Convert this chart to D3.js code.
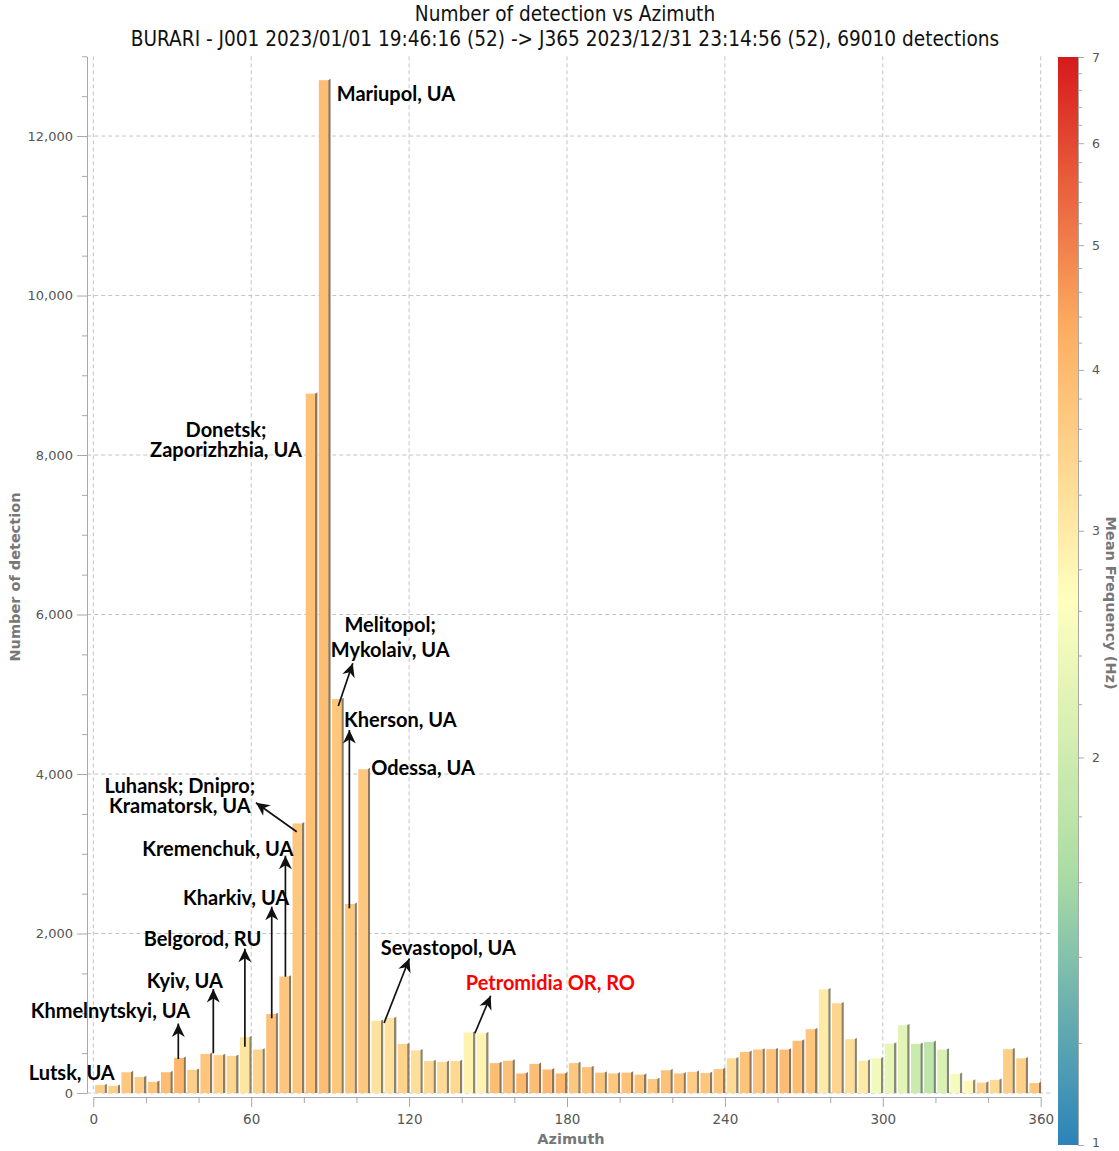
<!DOCTYPE html>
<html>
<head>
<meta charset="utf-8">
<script src="https://cdn.jsdelivr.net/npm/d3@7"></script>
<style>
  body { margin: 0; background: #fff; }
  text { font-family: "DejaVu Sans", sans-serif; }
</style>
</head>
<body>
<svg id="chart" width="1119" height="1151"></svg>
<script>
// Azimuth bins (start of each 5-degree bin)
const azimuthBins = [
  0, 5, 10, 15, 20, 25, 30, 35, 40, 45, 50, 55,
  60, 65, 70, 75, 80, 85, 90, 95, 100, 105, 110, 115,
  120, 125, 130, 135, 140, 145, 150, 155, 160, 165, 170, 175,
  180, 185, 190, 195, 200, 205, 210, 215, 220, 225, 230, 235,
  240, 245, 250, 255, 260, 265, 270, 275, 280, 285, 290, 295,
  300, 305, 310, 315, 320, 325, 330, 335, 340, 345, 350, 355
];
const binWidth = 5;

// Number of detections per bin
const detections = [
  100, 90, 260, 200, 140, 260, 440, 290, 490, 475, 465, 700,
  545, 990, 1460, 3380, 8770, 12700, 4940, 2370, 4060, 905, 940, 615,
  535, 400, 390, 400, 760, 750, 375, 405, 245, 365, 295, 245,
  375, 325, 255, 245, 255, 230, 175, 285, 245, 265, 250, 300,
  435, 515, 545, 550, 545, 655, 800, 1300, 1125, 675, 405, 435,
  620, 850, 615, 640, 545, 240, 155, 130, 165, 550, 435, 125
];

// Mean frequency (Hz) per bin
const meanFreq = [
  3.6, 3.5, 3.7, 3.6, 3.75, 3.95, 4.1, 3.55, 3.75, 3.5, 3.4, 3.1,
  3.45, 3.85, 3.75, 3.7, 3.85, 3.9, 3.7, 3.7, 3.7, 3.15, 3.15, 3.45,
  3.2, 3.35, 3.3, 3.35, 2.85, 2.85, 3.9, 3.85, 4.05, 3.9, 4.0, 4.05,
  3.7, 3.8, 3.8, 3.7, 3.85, 3.8, 3.7, 3.85, 3.8, 3.6, 3.75, 3.75,
  3.3, 3.8, 3.75, 3.8, 3.95, 3.9, 3.7, 3.0, 3.4, 3.2, 3.0, 2.45,
  2.3, 2.25, 1.95, 1.82, 2.15, 2.5, 2.75, 3.45, 3.3, 3.55, 3.5, 3.7
];

const xTicks = [0, 60, 120, 180, 240, 300, 360];
const yTicks = [0, 2000, 4000, 6000, 8000, 10000, 12000];
const freqTicks = [1, 2, 3, 4, 5, 6, 7];
const spectral = ["#2b83ba", "#abdda4", "#ffffbf", "#fdae61", "#d7191c"];

const titleText = "Number of detection vs Azimuth";
const subtitleText = "BURARI - J001 2023/01/01 19:46:16 (52) -> J365 2023/12/31 23:14:56 (52), 69010 detections";

// Place-name labels, positioned in (azimuth, detections) coordinates;
// multi-line labels list their lines top to bottom
const placeLabels = [
  { lines: ["Mariupol, UA"],                       az: 115.0, n: 12527 },
  { lines: ["Donetsk;", "Zaporizhzhia, UA"],       az: 50.4,  n: 8313, gap: 20 },
  { lines: ["Melitopol;", "Mykolaiv, UA"],         az: 112.8, n: 5868, gap: 25 },
  { lines: ["Kherson, UA"],                        az: 116.7, n: 4677 },
  { lines: ["Odessa, UA"],                         az: 125.3, n: 4075 },
  { lines: ["Luhansk; Dnipro;", "Kramatorsk, UA"], az: 32.9,  n: 3850, gap: 20 },
  { lines: ["Kremenchuk, UA"],                     az: 47.3,  n: 3060 },
  { lines: ["Kharkiv, UA"],                        az: 54.3,  n: 2445 },
  { lines: ["Belgorod, RU"],                       az: 41.5,  n: 1931 },
  { lines: ["Kyiv, UA"],                           az: 34.8,  n: 1404 },
  { lines: ["Khmelnytskyi, UA"],                   az: 6.5,   n: 1028 },
  { lines: ["Lutsk, UA"],                          az: -8.2,  n: 251 },
  { lines: ["Sevastopol, UA"],                     az: 134.9, n: 1818 },
  { lines: ["Petromidia OR, RO"],                  az: 173.7, n: 1379, red: true }
];

// Pointer arrows: from a bar top towards its label
const pointers = [
  { from: [93.1, 4853],  to: [98.6, 5388] },
  { from: [97.3, 2316],  to: [97.3, 4552] },
  { from: [77.3, 3276],  to: [61.8, 3640] },
  { from: [73.0, 1458],  to: [73.0, 2976] },
  { from: [67.8, 937],   to: [67.8, 2336] },
  { from: [57.6, 581],   to: [57.6, 1809] },
  { from: [45.6, 498],   to: [45.6, 1304] },
  { from: [32.3, 426],   to: [32.3, 871] },
  { from: [110.5, 878],  to: [120.1, 1687] },
  { from: [145.0, 749],  to: [151.0, 1220] }
];

const svg = d3.select("#chart");

const x = d3.scaleLinear().domain([0, 360]).range([93.3, 1040.7]);
const y = d3.scaleLinear().domain([0, 13000]).range([1093, 56.3]);
const color = d3.scaleSequentialLog(d3.piecewise(d3.interpolateRgb, spectral)).domain([1, 7]);
const cbY = d3.scaleLog().domain([1, 7]).range([1145, 57]);

const gridColor = "#c4c4c4";
const axisColor = "#a8a8a8";
const labelColor = "#555";

// Grid
const grid = svg.append("g");
grid.selectAll("line.h").data(yTicks).join("line")
  .attr("x1", x(-2.3)).attr("x2", x(364.3))
  .attr("y1", d => y(d)).attr("y2", d => y(d))
  .attr("stroke", gridColor).attr("stroke-dasharray", "4,3");
grid.selectAll("line.v").data(xTicks).join("line")
  .attr("x1", d => x(d)).attr("x2", d => x(d))
  .attr("y1", y(13000)).attr("y2", y(0))
  .attr("stroke", gridColor).attr("stroke-dasharray", "4,3");

// Bars with a shaded side face
const bars = svg.append("g");
const bw = x(binWidth) - x(0);
const rows = azimuthBins.map((a, i) => ({ a, n: detections[i], f: meanFreq[i] }));
const sideColor = d => d3.interpolateRgb(color(d.f), "#4a4a4a")(0.62);

bars.selectAll("path.side").data(rows).join("path")
  .attr("d", d => {
    const xr = x(d.a) + 0.85 * bw, xs = x(d.a) + 1.03 * bw;
    const yt = y(d.n), y0 = y(0);
    return `M${xr},${yt}L${xs},${yt - 1.4}L${xs},${y0}L${xr},${y0}Z`;
  })
  .attr("fill", sideColor);

bars.selectAll("rect.face").data(rows).join("rect")
  .attr("x", d => x(d.a) + 0.14 * bw)
  .attr("width", 0.71 * bw)
  .attr("y", d => y(d.n))
  .attr("height", d => y(0) - y(d.n))
  .attr("fill", d => color(d.f));

// Left axis (offset), major + minor ticks
const yAxisX = 87;
const yMinor = d3.range(0, 13001, 500).filter(v => v % 2000 !== 0);
const yAxisG = svg.append("g").attr("transform", `translate(${yAxisX},0)`);
yAxisG.call(d3.axisLeft(y).tickValues(yMinor).tickSize(5).tickFormat(""));
yAxisG.call(g => g.select(".domain").remove());
const yMajorG = svg.append("g").attr("transform", `translate(${yAxisX},0)`)
  .call(d3.axisLeft(y).tickValues(yTicks).tickSize(10).tickPadding(4).tickFormat(d3.format(",")).tickSizeOuter(0));
[yAxisG, yMajorG].forEach(g => {
  g.selectAll("line").attr("stroke", axisColor);
  g.selectAll(".domain").attr("stroke", axisColor);
  g.selectAll("text").attr("fill", labelColor).style("font-size", "13px").style("font-family", "DejaVu Sans");
});

// Bottom axis (offset)
const xAxisY = 1097;
const xMinor = d3.range(0, 361, 20).filter(v => v % 60 !== 0);
const xMinorG = svg.append("g").attr("transform", `translate(0,${xAxisY})`)
  .call(d3.axisBottom(x).tickValues(xMinor).tickSize(6).tickFormat(""));
xMinorG.select(".domain").remove();
const xMajorG = svg.append("g").attr("transform", `translate(0,${xAxisY})`)
  .call(d3.axisBottom(x).tickValues(xTicks).tickSize(10).tickPadding(7).tickSizeOuter(0));
[xMinorG, xMajorG].forEach(g => {
  g.selectAll("line").attr("stroke", axisColor);
  g.selectAll(".domain").attr("stroke", axisColor);
  g.selectAll("text").attr("fill", labelColor).style("font-size", "13.5px").style("font-family", "DejaVu Sans");
});

// Axis titles
svg.append("text").attr("x", 571).attr("y", 1139).attr("text-anchor", "middle")
  .attr("dominant-baseline", "central")
  .style("font-size", "14.5px").style("font-weight", "bold").attr("fill", "#777").text("Azimuth");
svg.append("text").attr("transform", "translate(15,577) rotate(-90)").attr("text-anchor", "middle")
  .attr("dominant-baseline", "central")
  .style("font-size", "14.5px").style("font-weight", "bold").attr("fill", "#777").text("Number of detection");

// Titles
svg.append("text").attr("x", 565).attr("y", 14).attr("text-anchor", "middle")
  .attr("dominant-baseline", "central")
  .style("font-family", "DejaVu Sans Condensed").style("font-size", "20.6px").attr("fill", "#111").text(titleText);
svg.append("text").attr("x", 565).attr("y", 39).attr("text-anchor", "middle")
  .attr("dominant-baseline", "central")
  .style("font-family", "DejaVu Sans Condensed").style("font-size", "20.6px").attr("fill", "#111").text(subtitleText);

// Colour bar
const defs = svg.append("defs");
const grad = defs.append("linearGradient").attr("id", "freqGrad")
  .attr("x1", 0).attr("x2", 0).attr("y1", 1).attr("y2", 0);
d3.range(0, 1.0001, 0.02).forEach(t => {
  const v = Math.exp(t * Math.log(7));
  grad.append("stop").attr("offset", t).attr("stop-color", color(v));
});
svg.append("rect").attr("x", 1058).attr("y", cbY(7)).attr("width", 20)
  .attr("height", cbY(1) - cbY(7)).attr("fill", "url(#freqGrad)");

const cbMinor = [];
freqTicks.slice(0, -1).forEach(v => { for (let k = 1; k < 5; k++) cbMinor.push(+(v + k * 0.2).toFixed(1)); });
const cbMinorG = svg.append("g").attr("transform", "translate(1078,0)")
  .call(d3.axisRight(cbY).tickValues(cbMinor).tickSize(4).tickFormat(""));
cbMinorG.select(".domain").remove();
const cbMajorG = svg.append("g").attr("transform", "translate(1078,0)")
  .call(d3.axisRight(cbY).tickValues(freqTicks).tickSize(6).tickPadding(8).tickFormat(d3.format("d")).tickSizeOuter(0));
[cbMinorG, cbMajorG].forEach(g => {
  g.selectAll("line").attr("stroke", axisColor);
  g.selectAll(".domain").attr("stroke", axisColor);
  g.selectAll("text").attr("fill", labelColor).style("font-size", "12.5px").style("font-family", "DejaVu Sans");
});
// keep the bottom label inside the canvas
cbMajorG.selectAll(".tick").filter(d => d === 1).select("text").attr("dy", "0.1em");
svg.append("text").attr("transform", "translate(1111,603) rotate(90)").attr("text-anchor", "middle")
  .attr("dominant-baseline", "central")
  .style("font-size", "14.5px").style("font-weight", "bold").attr("fill", "#777").text("Mean Frequency (Hz)");

// Arrow head
defs.append("marker").attr("id", "head")
  .attr("viewBox", "-15 -8 16 16").attr("refX", 0).attr("refY", 0)
  .attr("markerWidth", 16).attr("markerHeight", 16)
  .attr("markerUnits", "userSpaceOnUse").attr("orient", "auto")
  .append("path").attr("d", "M0,0L-13.5,-6.5L-9.5,0L-13.5,6.5Z").attr("fill", "#111");

svg.append("g").selectAll("line").data(pointers).join("line")
  .attr("x1", d => x(d.from[0])).attr("y1", d => y(d.from[1]))
  .attr("x2", d => x(d.to[0])).attr("y2", d => y(d.to[1]))
  .attr("stroke", "#111").attr("stroke-width", 1.7)
  .attr("marker-end", "url(#head)");

// Place labels (one text element per label, one tspan per line)
const lbl = svg.append("g").selectAll("text").data(placeLabels).join("text")
  .attr("text-anchor", "middle")
  .style("font-family", "Lato").style("font-weight", "bold").style("font-size", "20px")
  .attr("fill", d => d.red ? "#ff0000" : "#000");
lbl.each(function (d) {
  const t = d3.select(this);
  d.lines.forEach((line, k) => {
    t.append("tspan")
      .attr("x", x(d.az))
      .attr("y", y(d.n) + k * (d.gap || 20) + 7)
      .text(line);
  });
});
</script>
</body>
</html>
